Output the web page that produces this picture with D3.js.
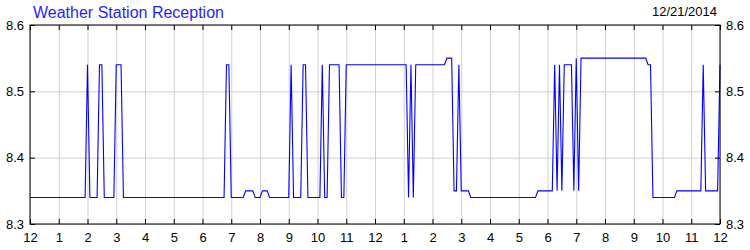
<!DOCTYPE html>
<html>
<head>
<meta charset="utf-8">
<script src="https://cdn.jsdelivr.net/npm/d3@7"></script>
<style>
  body { margin: 0; background: #fff; }
  text { font-family: "Liberation Sans", Arial, sans-serif; }
  .grid line { stroke: #d0d0d0; }
  .grid .domain { display: none; }
  .axis .domain { display: none; }
  .axis line { stroke: #000; }
  .axis text { font-size: 13px; fill: #000; }
</style>
</head>
<body>
<svg id="chart" width="750" height="250"></svg>
<script>
// readings, every 5 minutes where the level changes
var times = ["00:00", "01:55", "02:00", "02:05", "02:20", "02:25", "02:30", "02:35",
  "02:55", "03:00", "03:10", "03:15", "06:45", "06:50", "06:55", "07:00",
  "07:25", "07:30", "07:45", "07:50", "08:00", "08:05", "08:15", "08:20",
  "09:00", "09:05", "09:10", "09:25", "09:30", "09:35", "09:40",
  "10:05", "10:10", "10:15", "10:20", "10:25", "10:45", "10:50", "10:55", "11:00",
  "13:05", "13:10", "13:15", "13:20", "13:25", "14:25", "14:30", "14:40",
  "14:45", "14:50", "14:55", "15:00", "15:15", "15:20",
  "17:35", "17:40", "18:10", "18:15", "18:20", "18:25", "18:30", "18:35",
  "18:50", "18:55", "19:00", "19:05", "19:10", "21:25", "21:30", "21:35", "21:40",
  "22:25", "22:30", "23:20", "23:25", "23:30", "23:55", "24:00"];
var reception = [8.34, 8.34, 8.54, 8.34, 8.34, 8.54, 8.54, 8.34,
  8.34, 8.54, 8.54, 8.34, 8.34, 8.54, 8.54, 8.34,
  8.34, 8.35, 8.35, 8.34, 8.34, 8.35, 8.35, 8.34,
  8.34, 8.54, 8.34, 8.34, 8.54, 8.54, 8.34,
  8.34, 8.54, 8.34, 8.34, 8.54, 8.54, 8.34, 8.34, 8.54,
  8.54, 8.34, 8.54, 8.34, 8.54, 8.54, 8.55, 8.55,
  8.35, 8.35, 8.54, 8.35, 8.35, 8.34,
  8.34, 8.35, 8.35, 8.54, 8.35, 8.54, 8.35, 8.54,
  8.54, 8.35, 8.55, 8.35, 8.55, 8.55, 8.54, 8.54, 8.34,
  8.34, 8.35, 8.35, 8.54, 8.35, 8.35, 8.54];
var yTicks = [8.3, 8.4, 8.5, 8.6];
var title = "Weather Station Reception";
var dateLabel = "12/21/2014";

var margin = { top: 25, right: 30, bottom: 26, left: 30 },
  width = 750 - margin.left - margin.right,
  height = 250 - margin.top - margin.bottom;

function toDate(t) {
  var p = t.split(":");
  return new Date(2014, 11, 21, +p[0], +p[1]);
}

var data = times.map(function(t, i) {
  return { date: toDate(t), value: reception[i] };
});

var x = d3.scaleTime()
  .domain([new Date(2014, 11, 21), new Date(2014, 11, 22)])
  .range([0, width]);

var y = d3.scaleLinear().domain([8.3, 8.6]).range([height, 0]);

var svg = d3.select("#chart");
var g = svg.append("g")
  .attr("transform", "translate(" + margin.left + "," + margin.top + ")");

// gridlines
g.append("g")
  .attr("class", "grid")
  .attr("transform", "translate(0," + height + ")")
  .call(d3.axisBottom(x).ticks(d3.timeHour.every(1)).tickSize(-height).tickFormat(""));
g.append("g")
  .attr("class", "grid")
  .call(d3.axisLeft(y).tickValues(yTicks).tickSize(-width).tickFormat(""));

// series
var line = d3.line()
  .x(function(d) { return x(d.date); })
  .y(function(d) { return y(d.value); });

g.append("path")
  .datum(data)
  .attr("fill", "none")
  .attr("stroke", "#0000ff")
  .attr("stroke-width", 1.1)
  .attr("d", line);

// frame
g.append("rect")
  .attr("width", width)
  .attr("height", height)
  .attr("fill", "none")
  .attr("stroke", "#000");

// axes, ticks pointing inward
g.append("g")
  .attr("class", "axis")
  .attr("transform", "translate(0," + height + ")")
  .call(d3.axisBottom(x).ticks(d3.timeHour.every(1)).tickSize(-5).tickPadding(9)
    .tickFormat(d3.timeFormat("%-I")));
g.append("g")
  .attr("class", "axis")
  .call(d3.axisTop(x).ticks(d3.timeHour.every(1)).tickSize(-5).tickFormat(""));
g.append("g")
  .attr("class", "axis")
  .call(d3.axisLeft(y).tickValues(yTicks).tickSize(-5).tickPadding(6)
    .tickFormat(d3.format(".1f")));
g.append("g")
  .attr("class", "axis")
  .attr("transform", "translate(" + width + ",0)")
  .call(d3.axisRight(y).tickValues(yTicks).tickSize(-5).tickPadding(6)
    .tickFormat(d3.format(".1f")));

svg.append("text")
  .attr("x", 33)
  .attr("y", 18)
  .attr("fill", "#1f1fff")
  .style("font-size", "16px")
  .text(title);

svg.append("text")
  .attr("x", 717)
  .attr("y", 16)
  .attr("text-anchor", "end")
  .attr("fill", "#000")
  .style("font-size", "13px")
  .text(dateLabel);
</script>
</body>
</html>
